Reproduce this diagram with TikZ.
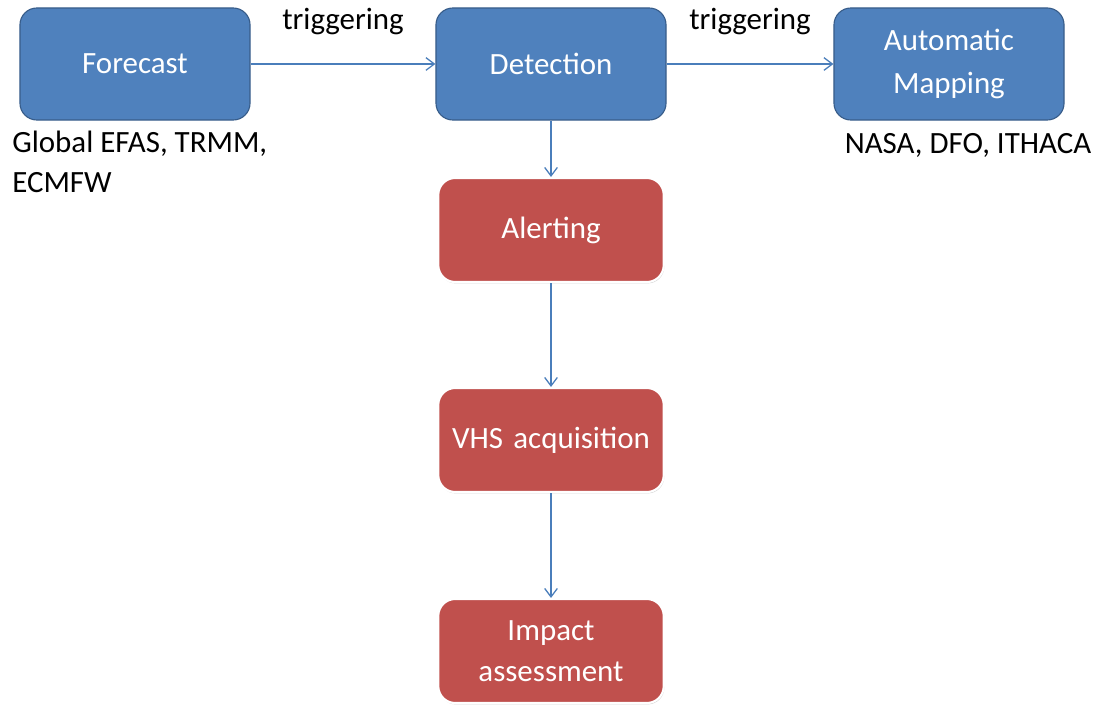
\documentclass[tikz,border=0pt]{standalone}
\usepackage{fontspec}
\setmainfont{Carlito}
\definecolor{boxblue}{RGB}{79, 129, 189}
\definecolor{edgeblue}{RGB}{56, 93, 138}
\definecolor{boxred}{RGB}{192, 80, 77}
\definecolor{linkblue}{RGB}{74, 126, 187}
\usetikzlibrary{arrows.meta, positioning, shadows}

\tikzset{
  stage/.style={draw=edgeblue, fill=boxblue, rounded corners=12pt, line width=0.8pt,
    minimum width=5.75cm, minimum height=2.8cm, text width=5.4cm, align=center,
    text=white, font=\fontsize{22}{30}\selectfont},
  task/.style={draw=white, fill=boxred, rounded corners=12pt, line width=1.5pt,
    minimum width=5.6cm, minimum height=2.6cm, text width=5.4cm, align=center,
    text=white, font=\fontsize{22}{29}\selectfont,
    drop shadow={shadow xshift=0.5pt, shadow yshift=-1pt, opacity=0.35}},
  link/.style={-{Straight Barb[length=6pt, width=9pt]}, linkblue, line width=0.9pt},
  note/.style={font=\fontsize{22}{28.5}\selectfont, inner sep=0pt}
}

\begin{document}
\begin{tikzpicture}[x=0.025cm, y=-0.025cm]
  \useasboundingbox (0,0) rectangle (1095,708);

  % top row
  \node[stage] (forecast) at (135, 64) {Forecast};
  \node[stage] (detection) at (551, 64) {Detection};
  \node[stage] (mapping) at (949, 64) {Automatic\\Mapping};

  % sources
  \node[note, anchor=north west, align=left] (fcsrc) at (12, 131) {Global EFAS, TRMM,\\ECMFW};
  \node[note] (mapsrc) at (968, 145) {NASA, DFO, ITHACA};

  % response chain
  \node[task] (alerting) at (551, 230) {Alerting};
  \node[task] (vhs) at (551, 440) {VHS acquisition};
  \node[task] (impact) at (551, 651) {Impact\\assessment};

  \draw[link] (forecast) -- node[note, above=20pt, text=black] (trig1) {triggering} (detection);
  \draw[link] (detection) -- node[note, above=20pt, text=black] (trig2) {triggering} (mapping);
  \draw[link] (detection) -- (alerting);
  \draw[link] (alerting) -- (vhs);
  \draw[link] (vhs) -- (impact);
\end{tikzpicture}
\end{document}
